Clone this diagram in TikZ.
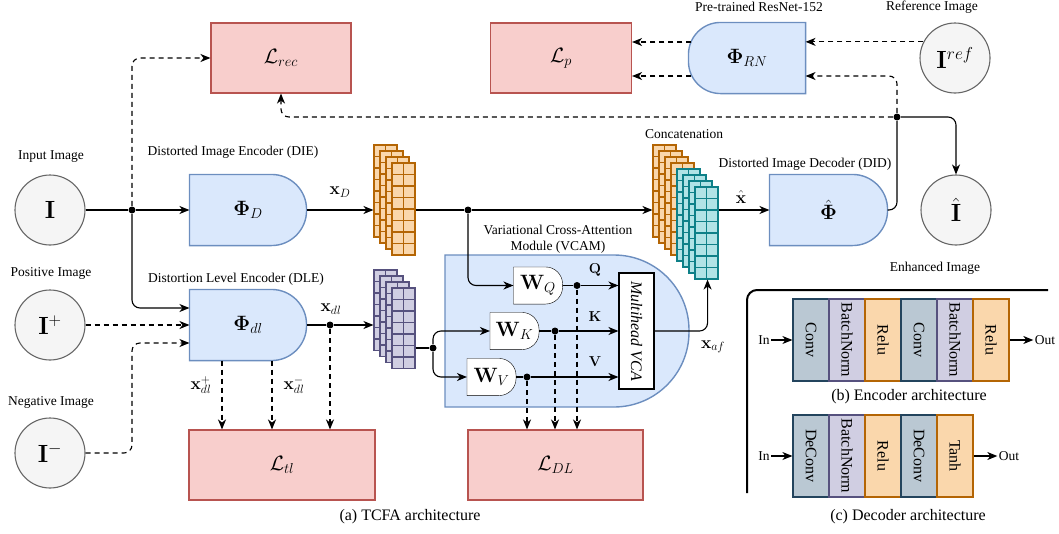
\documentclass[tikz,border=0pt]{standalone}
\usepackage[no-math]{fontspec}
\setmainfont{Liberation Serif}
\usetikzlibrary{arrows.meta,backgrounds}
\definecolor{blueF}{HTML}{DAE8FC}
\definecolor{blueD}{HTML}{6C8EBF}
\definecolor{redF}{HTML}{F8CECC}
\definecolor{redD}{HTML}{B85450}
\definecolor{grayF}{HTML}{F5F5F5}
\definecolor{grayD}{HTML}{666666}
\definecolor{convF}{HTML}{BAC8D3}
\definecolor{convD}{HTML}{23445D}
\definecolor{bnF}{HTML}{D0CEE2}
\definecolor{bnD}{HTML}{56517E}
\definecolor{reluF}{HTML}{FAD7AC}
\definecolor{reluD}{HTML}{B46504}
\definecolor{tealF}{HTML}{B0E3E6}
\definecolor{tealD}{HTML}{0E8088}

\begin{document}
\begin{tikzpicture}[
				x=1pt,y=-1pt,
				line width=1.1pt,
				>={Stealth[length=10pt,width=8pt,inset=3pt]}]
			\tikzstyle{img node}=[circle,draw=grayD,fill=grayF,minimum size=70pt,inner sep=0,font=\fontsize{26}{30}\selectfont]
			\tikzstyle{loss node}=[draw=redD,fill=redF,minimum width=140pt,minimum height=70pt,inner sep=0,font=\fontsize{20}{24}\selectfont]
			\tikzstyle{enc text}=[minimum width=116pt,minimum height=70pt,inner sep=0,font=\fontsize{20}{24}\selectfont]
			\tikzstyle{enc shape}=[draw=blueD,fill=blueF,line width=1.4pt]
			\tikzstyle{w text}=[minimum width=48pt,minimum height=36pt,inner sep=0,font=\fontsize{22}{26}\selectfont]
			\tikzstyle{lbl}=[inner sep=1pt,font=\fontsize{13.5}{16}\selectfont]
			\tikzstyle{math lbl}=[inner sep=1pt,font=\fontsize{18}{21}\selectfont]
			\tikzstyle{caption}=[inner sep=1pt,font=\fontsize{16}{19}\selectfont]
			\tikzstyle{junction}=[circle,fill=black,inner sep=0,minimum size=7pt]
			\tikzstyle{flow}=[->,rounded corners=8pt]
			\tikzstyle{aux}=[->,dash pattern=on 5pt off 4pt,rounded corners=8pt]
			\tikzstyle{block cell}=[draw,line width=1.2pt,minimum width=36pt,minimum height=82pt,inner sep=0,font=\fontsize{16}{19}\selectfont]
			\tikzstyle{grid box}=[inner sep=0]
			\useasboundingbox (0,0) rectangle (1059,533);

			\foreach \k in {0,...,3}
				\foreach \i in {0,1}
					\foreach \j in {0,...,7}
						\draw[draw=reluD,fill=reluF] ({374+6*\k+11.5*\i},{145+6*\k+11.5*\j}) rectangle ++(11.5,11.5);
			\foreach \k in {0,...,3}
				\foreach \i in {0,1}
					\foreach \j in {0,...,6}
						\draw[draw=bnD,fill=bnF] ({374+6*\k+11.5*\i},{270+6*\k+11.5*\j}) rectangle ++(11.5,11.5);
			\foreach \k in {0,...,3}
				\foreach \i in {0,1}
					\foreach \j in {0,...,7}
						\draw[draw=reluD,fill=reluF] ({653+6*\k+11.5*\i},{145+6*\k+11.5*\j}) rectangle ++(11.5,11.5);
			\foreach \k in {4,...,7}
				\foreach \i in {0,1}
					\foreach \j in {0,...,7}
						\draw[draw=tealD,fill=tealF] ({653+6*\k+11.5*\i},{145+6*\k+11.5*\j}) rectangle ++(11.5,11.5);
			\node[grid box,minimum width=41pt,minimum height=110pt] (fD) at (394.5,200) {};
			\node[grid box,minimum width=41pt,minimum height=98.5pt] (fdl) at (394.5,319.25) {};
			\node[grid box,minimum width=65pt,minimum height=134pt] (fcat) at (685.5,212) {};

			\node[img node] (inp) at (50,210) {$\mathbf{I}$};
			\node[img node] (ipos) at (50,325) {$\mathbf{I}^{+}$};
			\node[img node] (ineg) at (50,453) {$\mathbf{I}^{-}$};
			\node[img node] (iref) at (955,58) {$\mathbf{I}^{ref}$};
			\node[img node] (ihat) at (956,210) {$\hat{\mathbf{I}}$};
			\node[lbl] (linp) at (51,157) {Input Image};
			\node[lbl] (lpos) at (51,273) {Positive Image};
			\node[lbl] (lneg) at (51,402) {Negative Image};
			\node[lbl] (lref) at (932,7) {Reference Image};
			\node[lbl] (lhat) at (935,268) {Enhanced Image};
			\node[lbl] (lrn) at (759,7) {Pre-trained ResNet-152};
			\node[lbl] (ldie) at (233,152) {Distorted Image Encoder (DIE)};
			\node[lbl] (ldle) at (236,279) {Distortion Level Encoder (DLE)};
			\node[lbl] (ldid) at (805,164) {Distorted Image Decoder (DID)};
			\node[lbl] (lcat) at (684,134) {Concatenation};
			\node[lbl,align=center] (lvcam) at (558,239) {Variational Cross-Attention\\Module (VCAM)};

			\node[loss node] (lrec) at (281,58) {$\mathcal{L}_{rec}$};
			\node[loss node,minimum width=141pt] (lp) at (561,58) {$\mathcal{L}_{p}$};
			\node[loss node,minimum width=186pt] (ltl) at (282,465) {$\mathcal{L}_{tl}$};
			\node[loss node,minimum width=175pt] (ldl) at (555.5,465) {$\mathcal{L}_{DL}$};

			\node[enc text] (phiD) at (248,210) {$\mathbf{\Phi}_D$};
			\node[enc text] (phiDl) at (248,325) {$\mathbf{\Phi}_{dl}$};
			\node[enc text,minimum width=117pt] (phiH) at (828.5,210) {$\hat{\mathbf{\Phi}}$};
			\node[enc text] (phiRN) at (747,58) {$\mathbf{\Phi}_{RN}$};
			\node[w text] (wq) at (538,285.5) {$\mathbf{W}_Q$};
			\node[w text] (wk) at (514.5,331) {$\mathbf{W}_K$};
			\node[w text] (wv) at (491.5,377) {$\mathbf{W}_V$};
			\node[draw,fill=white,minimum width=35pt,minimum height=116pt,inner sep=0,font=\fontsize{16}{19}\selectfont\itshape] (mvca) at (636.5,331) {\rotatebox{-90}{Multihead VCA}};

			\begin{scope}[on background layer]
				\draw[enc shape] (445,255) [rounded corners=75pt] -- (689,255) -- (689,407) [sharp corners] -- (445,407) -- cycle;
				\draw[enc shape] (phiD.north west) [rounded corners=35pt] -- (phiD.north east) -- (phiD.south east) [sharp corners] -- (phiD.south west) -- cycle;
				\draw[enc shape] (phiDl.north west) [rounded corners=35pt] -- (phiDl.north east) -- (phiDl.south east) [sharp corners] -- (phiDl.south west) -- cycle;
				\draw[enc shape] (phiH.north west) [rounded corners=35pt] -- (phiH.north east) -- (phiH.south east) [sharp corners] -- (phiH.south west) -- cycle;
				\draw[enc shape] (phiRN.north east) [rounded corners=32pt] -- (phiRN.north west) -- (phiRN.south west) [sharp corners] -- (phiRN.south east) -- cycle;
				\foreach \w in {wq,wk,wv}
					\draw[fill=white] (\w.north west) [rounded corners=17pt] -- (\w.north east) -- (\w.south east) [sharp corners] -- (\w.south west) -- cycle;
			\end{scope}

			\node[junction] (j1) at (132,210) {};
			\node[junction] (j2) at (330,325) {};
			\node[junction] (j3) at (468,210) {};
			\node[junction] (j4) at (433,348) {};
			\node[junction] (j5) at (577,285.5) {};
			\node[junction] (j6) at (555,331) {};
			\node[junction] (j7) at (527,377) {};
			\node[junction] (j8) at (897,117) {};

			\draw (inp) -- (j1);
			\draw[flow] (j1) -- (phiD);
			\draw[aux] (j1) |- (lrec);
			\draw[flow] (j1) |- ([yshift=17pt]phiDl.west);
			\draw[aux] (ipos) -- (phiDl);
			\draw[aux] (ineg) -- (ineg -| j1) |- ([yshift=-18pt]phiDl.west);
			\draw (phiDl) -- (j2);
			\draw[flow] (j2) -- (j2 -| fdl.west);
			\draw[aux] (j2) -- (j2 |- ltl.north);
			\draw[aux] ([xshift=-26pt]phiDl.south) -- ([xshift=-26pt]phiDl.south |- ltl.north);
			\draw[aux] ([xshift=24pt]phiDl.south) -- ([xshift=24pt]phiDl.south |- ltl.north);
			\draw[flow] (phiD) -- (phiD -| fD.west);
			\draw (phiD -| fD.east) -- (j3);
			\draw[flow] (j3) -- (j3 -| fcat.west);
			\draw[flow] (j3) |- (wq);
			\draw (j4 -| fdl.east) -- (j4);
			\draw[flow] (j4) |- (wk);
			\draw[flow] (j4) |- (wv);
			\draw (wq) -- (j5);
			\draw (wk) -- (j6);
			\draw (wv) -- (j7);
			\draw[flow] (j5) -- (j5 -| mvca.west);
			\draw[flow] (j6) -- (j6 -| mvca.west);
			\draw[flow] (j7) -- (j7 -| mvca.west);
			\draw[aux] (j5) -- (j5 |- ldl.north);
			\draw[aux] (j6) -- (j6 |- ldl.north);
			\draw[aux] (j7) -- (j7 |- ldl.north);
			\draw[flow] (mvca) -| ([xshift=-11pt]fcat.south east);
			\draw[flow] (fcat.east |- phiH) -- (phiH);
			\draw[rounded corners=8pt] (phiH) -| (j8);
			\draw[flow] (j8) -| (ihat);
			\draw[aux] (j8) -| (lrec);
			\draw[aux] (j8) |- ([yshift=-18pt]phiRN.east);
			\draw[aux] (iref.153) -- (iref.153 -| phiRN.east);
			\draw[aux] ([xshift=3pt,yshift=16pt]phiRN.west) -- ([yshift=16pt]phiRN.west -| lp.east);
			\draw[aux] ([xshift=3pt,yshift=-18pt]phiRN.west) -- ([yshift=-18pt]phiRN.west -| lp.east);

			\node[math lbl] (txD) at (340,192) {$\mathbf{x}_D$};
			\node[math lbl] (txdl) at (331,309) {$\mathbf{x}_{dl}$};
			\node[math lbl] (txp) at (201,385) {$\mathbf{x}_{dl}^{+}$};
			\node[math lbl] (txm) at (294,385) {$\mathbf{x}_{dl}^{-}$};
			\node[math lbl] (txh) at (741,197) {$\hat{\mathbf{x}}$};
			\node[math lbl] (txaf) at (713,347) {$\mathbf{x}_{af}$};
			\node[lbl,font=\fontsize{15}{18}\selectfont] (tq) at (595,270) {$\mathbf{Q}$};
			\node[lbl,font=\fontsize{15}{18}\selectfont] (tk) at (595,317) {$\mathbf{K}$};
			\node[lbl,font=\fontsize{15}{18}\selectfont] (tv) at (595,362) {$\mathbf{V}$};

			\draw[line width=2pt,rounded corners=10pt] (747,493) -- (747,290) -- (1048,290);
			\foreach \t/\f/\d [count=\i] in {Conv/convF/convD,BatchNorm/bnF/bnD,Relu/reluF/reluD,Conv/convF/convD,BatchNorm/bnF/bnD,Relu/reluF/reluD}
				\node[block cell,fill=\f,draw=\d] (e\i) at ({775+36*\i},340) {\rotatebox{-90}{\t}};
			\foreach \t/\f/\d [count=\i] in {DeConv/convF/convD,BatchNorm/bnF/bnD,Relu/reluF/reluD,DeConv/convF/convD,Tanh/reluF/reluD}
				\node[block cell,fill=\f,draw=\d] (d\i) at ({775+36*\i},456) {\rotatebox{-90}{\t}};
			\node[lbl] (ein) at (764,340) {In};
			\node[lbl] (eout) at (1045,340) {Out};
			\node[lbl] (din) at (764,456) {In};
			\node[lbl] (dout) at (1009,456) {Out};
			\draw[flow] (ein) -- (e1);
			\draw[flow] (e6) -- (eout);
			\draw[flow] (din) -- (d1);
			\draw[flow] (d5) -- (dout);

			\node[caption] (capa) at (410,517) {(a) TCFA architecture};
			\node[caption] (capb) at (909,397) {(b) Encoder architecture};
			\node[caption] (capc) at (908,517) {(c) Decoder architecture};
		\end{tikzpicture}
\end{document}
